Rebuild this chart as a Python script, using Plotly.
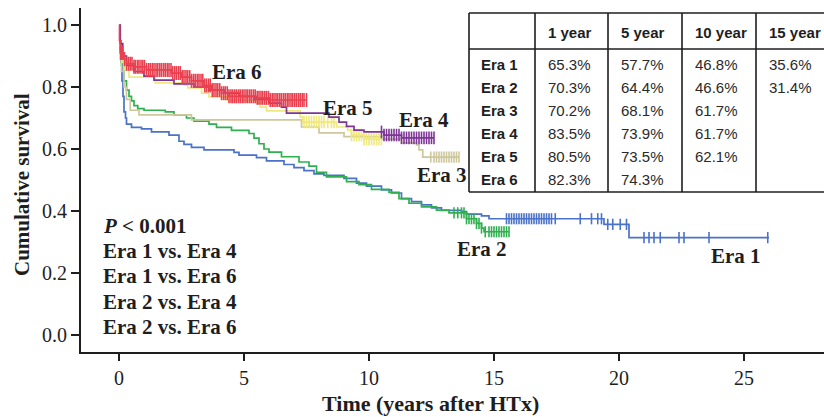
import numpy as np
import plotly.graph_objects as go

# ---------------- data ----------------
era_names = ["Era 1", "Era 2", "Era 3", "Era 4", "Era 5", "Era 6"]

era1_t = [0, 0.04, 0.08, 0.12, 0.16, 0.2, 0.26, 0.3, 0.5, 0.9, 1.3, 2.0, 2.4, 2.6, 2.9, 3.4, 4.6, 4.8,
          5.5, 5.9, 6.6, 7.0, 7.4, 7.8, 8.2, 9.0, 9.5, 9.9, 10.5, 10.9, 11.3, 11.7, 12.1, 12.5, 12.9,
          13.7, 13.9, 14.5, 14.8, 19.4, 20.4]
era1_s = [1.0, 0.95, 0.88, 0.82, 0.77, 0.72, 0.70, 0.68, 0.67, 0.665, 0.655, 0.645, 0.625, 0.615, 0.605,
          0.597, 0.589, 0.58, 0.572, 0.562, 0.55, 0.54, 0.53, 0.52, 0.515, 0.505, 0.49, 0.48, 0.468,
          0.458, 0.44, 0.43, 0.42, 0.41, 0.402, 0.398, 0.39, 0.384, 0.375, 0.357, 0.314]
era1_end = 26.0
era1_c = [15.5, 15.6, 15.7, 15.8, 15.9, 16.0, 16.1, 16.2, 16.3, 16.4, 16.5, 16.6, 16.7, 16.8, 16.9,
          17.0, 17.1, 17.2, 17.3, 17.45, 18.45, 18.9, 19.15, 19.3, 19.55, 19.75, 20.05, 20.3,
          21.0, 21.2, 21.4, 21.65, 22.4, 22.6, 23.6, 25.95]

era2_t = [0, 0.04, 0.1, 0.2, 0.3, 0.4, 0.5, 0.6, 0.75, 1.0, 1.85, 2.2, 2.7, 3.0, 3.6, 3.9, 4.5, 5.2,
          5.4, 5.6, 5.8, 6.0, 6.5, 7.2, 7.6, 7.9, 8.3, 9.1, 9.6, 10.1, 10.8, 11.2, 11.6, 12.1, 12.7,
          13.2, 13.9, 14.3, 14.5, 14.6]
era2_s = [1.0, 0.93, 0.87, 0.82, 0.79, 0.77, 0.755, 0.74, 0.73, 0.725, 0.72, 0.71, 0.70, 0.69, 0.68,
          0.67, 0.66, 0.65, 0.635, 0.617, 0.60, 0.59, 0.575, 0.558, 0.545, 0.525, 0.51, 0.495, 0.485,
          0.47, 0.46, 0.44, 0.425, 0.413, 0.403, 0.394, 0.375, 0.36, 0.345, 0.333]
era2_end = 15.6
era2_c = [13.4, 13.55, 13.7, 13.8, 13.9, 14.0, 14.1, 14.2, 14.3, 14.4, 14.5, 14.65, 14.8, 14.9,
          15.0, 15.1, 15.2, 15.3, 15.4, 15.5, 15.6]

era3_t = [0, 0.04, 0.1, 0.2, 0.3, 0.45, 0.8, 2.9, 7.3, 8.0, 9.0, 10.5, 11.3, 11.9, 12.0, 12.15]
era3_s = [1.0, 0.92, 0.85, 0.80, 0.76, 0.725, 0.71, 0.694, 0.671, 0.652, 0.64, 0.632, 0.62, 0.613,
          0.597, 0.574]
era3_end = 13.6
era3_c = [12.47, 12.6, 12.7, 12.8, 12.9, 13.0, 13.1, 13.2, 13.3, 13.4, 13.5, 13.6]

era4_t = [0, 0.05, 0.15, 0.3, 0.6, 1.0, 1.4, 2.2, 3.0, 3.6, 4.2, 4.8, 5.4, 6.0, 6.5, 6.7, 8.4, 8.8,
          9.1, 9.4, 9.8, 10.6, 11.3]
era4_s = [1.0, 0.94, 0.9, 0.87, 0.85, 0.835, 0.822, 0.81, 0.8, 0.79, 0.78, 0.77, 0.76, 0.748, 0.735,
          0.716, 0.703, 0.687, 0.673, 0.661, 0.655, 0.645, 0.636]
era4_end = 12.6
era4_c = [10.5, 10.6, 10.7, 10.8, 10.9, 11.0, 11.1, 11.2, 11.3, 11.4, 11.5, 11.6, 11.7, 11.8, 11.9,
          12.0, 12.1, 12.2, 12.3, 12.4, 12.5, 12.6]

era5_t = [0, 0.04, 0.1, 0.2, 0.4, 1.45, 2.6, 2.75, 3.3, 3.6, 4.3, 5.5, 5.65, 5.9, 7.25, 7.35, 8.7,
          9.15, 9.3, 9.8]
era5_s = [1.0, 0.93, 0.88, 0.855, 0.832, 0.813, 0.806, 0.797, 0.78, 0.768, 0.758, 0.748, 0.735,
          0.723, 0.703, 0.687, 0.671, 0.661, 0.645, 0.632]
era5_end = 10.5
era5_c = [7.4, 7.5, 7.6, 7.7, 7.8, 7.9, 8.0, 8.1, 8.2, 8.35, 8.5, 8.6, 9.3, 9.4, 9.5, 9.6, 9.7,
          9.8, 9.9, 10.0, 10.1, 10.2, 10.3, 10.4, 10.5]

era6_t = [0, 0.02, 0.05, 0.2, 0.3, 0.6, 1.1, 2.1, 2.5, 2.9, 3.4, 3.7, 4.1, 4.4, 5.5, 6.0]
era6_s = [1.0, 0.95, 0.91, 0.89, 0.875, 0.865, 0.855, 0.845, 0.832, 0.82, 0.805, 0.79, 0.78, 0.77,
          0.765, 0.758]
era6_end = 7.5
era6_c = [0.06, 0.1, 0.15, 0.22, 0.3, 0.38, 0.45, 0.52, 0.6, 0.66, 0.74, 0.8, 0.88, 0.95, 1.02,
          1.1, 1.18, 1.25, 1.33, 1.4, 1.48, 1.55, 1.63, 1.7, 1.78, 1.85, 1.93, 2.0, 2.08, 2.15,
          2.23, 2.3, 2.38, 2.45, 2.53, 2.6, 2.68, 2.75, 2.83, 2.9, 2.98, 3.05, 3.13, 3.2, 3.28,
          3.35, 3.43, 3.5, 3.58, 3.65, 3.73, 3.8, 3.88, 3.95, 4.03, 4.1, 4.18, 4.25, 4.33, 4.4,
          4.48, 4.55, 4.63, 4.7, 4.78, 4.85, 4.93, 5.0, 5.08, 5.15, 5.23, 5.3, 5.38, 5.45, 5.53,
          5.6, 5.68, 5.75, 5.83, 5.9, 5.98, 6.05, 6.13, 6.2, 6.28, 6.35, 6.43, 6.5, 6.58, 6.65,
          6.73, 6.8, 6.88, 6.95, 7.03, 7.1, 7.18, 7.25, 7.33, 7.4, 7.5]

# table
table_cols = ["1 year", "5 year", "10 year", "15 year"]
table_vals = [
    ["65.3%", "57.7%", "46.8%", "35.6%"],
    ["70.3%", "64.4%", "46.6%", "31.4%"],
    ["70.2%", "68.1%", "61.7%", ""],
    ["83.5%", "73.9%", "61.7%", ""],
    ["80.5%", "73.5%", "62.1%", ""],
    ["82.3%", "74.3%", "", ""],
]

stats_lines = ["<i>P</i> &lt; 0.001", "Era 1 vs. Era 4", "Era 1 vs. Era 6",
               "Era 2 vs. Era 4", "Era 2 vs. Era 6"]

x_ticks = [0, 5, 10, 15, 20, 25]
y_ticks = [0.0, 0.2, 0.4, 0.6, 0.8, 1.0]

# ---------------- styling ----------------
colors = {"Era 1": "#4a72c8", "Era 2": "#2fb04f", "Era 3": "#cdc79c",
          "Era 4": "#7d3596", "Era 5": "#efe87c", "Era 6": "#e8404f"}
SERIF = "Liberation Serif, Times New Roman, serif"
SANS = "Liberation Sans, Arial, sans-serif"
INK = "#1e1e1e"

W, H = 824, 417
L, R, T, B = 81, 0, 8, 65


def xp(px):
    return (px - L) / (W - L - R)


def yp(py):
    return (H - B - py) / (H - T - B)


series = {
    "Era 1": (era1_t, era1_s, era1_end, era1_c, 8),
    "Era 2": (era2_t, era2_s, era2_end, era2_c, 8),
    "Era 3": (era3_t, era3_s, era3_end, era3_c, 8),
    "Era 5": (era5_t, era5_s, era5_end, era5_c, 9),
    "Era 4": (era4_t, era4_s, era4_end, era4_c, 9),
    "Era 6": (era6_t, era6_s, era6_end, era6_c, 10),
}

fig = go.Figure()
for name, (t, s, end, c, msize) in series.items():
    xs = list(t) + [end]
    ys = list(s) + [s[-1]]
    fig.add_trace(go.Scatter(x=xs, y=ys, mode="lines", line=dict(color=colors[name], width=1.7, shape="hv"),
                             name=name, showlegend=False, hoverinfo="skip"))
    ta = np.array(t)
    idx = np.searchsorted(ta, np.array(c), side="right") - 1
    cy = np.array(s)[idx]
    fig.add_trace(go.Scatter(x=c, y=cy, mode="markers",
                             marker=dict(symbol="line-ns", size=msize, color=colors[name],
                                         line=dict(color=colors[name], width=1.6)),
                             showlegend=False, hoverinfo="skip"))

annotations = []
# era labels (pixel centers)
era_label_pos = {"Era 6": (237, 72), "Era 5": (348, 108), "Era 4": (424, 120),
                 "Era 3": (442, 175), "Era 2": (482, 249), "Era 1": (736, 256)}
for name, (px, py) in era_label_pos.items():
    annotations.append(dict(x=xp(px), y=yp(py), xref="paper", yref="paper", text="<b>%s</b>" % name,
                            showarrow=False, font=dict(family=SERIF, size=21, color=INK),
                            xanchor="center", yanchor="middle"))

# stats text
for i, line in enumerate(stats_lines):
    annotations.append(dict(x=xp(101), y=yp(226 + 25.2 * i), xref="paper", yref="paper",
                            text="<b>%s</b>" % line, showarrow=False,
                            font=dict(family=SERIF, size=21, color=INK),
                            xanchor="left", yanchor="middle"))

# axis titles
annotations.append(dict(x=xp(22), y=yp(185), xref="paper", yref="paper", text="<b>Cumulative survival</b>",
                        textangle=-90, showarrow=False, font=dict(family=SERIF, size=21, color=INK),
                        xanchor="center", yanchor="middle"))
annotations.append(dict(x=xp(430), y=yp(403), xref="paper", yref="paper", text="<b>Time (years after HTx)</b>",
                        showarrow=False, font=dict(family=SERIF, size=22, color=INK),
                        xanchor="center", yanchor="middle"))

# table
col_lines = [469, 535, 608, 682, 756]
tab_top, tab_head, tab_bot = 13, 49, 192
row_y = [65, 88, 111, 133, 156, 179]
shapes = []
shapes.append(dict(type="rect", xref="paper", yref="paper", x0=xp(469), x1=xp(830), y0=yp(tab_bot), y1=yp(tab_top),
                   fillcolor="white", line=dict(width=0), layer="above"))
for yy in (tab_top, tab_head, tab_bot):
    shapes.append(dict(type="line", xref="paper", yref="paper", x0=xp(469), x1=xp(830), y0=yp(yy), y1=yp(yy),
                       line=dict(color=INK, width=1.6), layer="above"))
for cx in col_lines:
    shapes.append(dict(type="line", xref="paper", yref="paper", x0=xp(cx), x1=xp(cx), y0=yp(tab_bot), y1=yp(tab_top),
                       line=dict(color=INK, width=1.6), layer="above"))

for j, head in enumerate(table_cols):
    annotations.append(dict(x=xp(col_lines[j + 1] + 11), y=yp(32), xref="paper", yref="paper",
                            text="<b>%s</b>" % head, showarrow=False,
                            font=dict(family=SANS, size=15, color=INK), xanchor="left", yanchor="middle"))
for i, name in enumerate(era_names):
    annotations.append(dict(x=xp(479), y=yp(row_y[i]), xref="paper", yref="paper",
                            text="<b>%s</b>" % name, showarrow=False,
                            font=dict(family=SANS, size=15, color=INK), xanchor="left", yanchor="middle"))
    for j, v in enumerate(table_vals[i]):
        if v:
            annotations.append(dict(x=xp(col_lines[j + 1] + 11), y=yp(row_y[i]), xref="paper", yref="paper",
                                    text=v, showarrow=False,
                                    font=dict(family=SANS, size=15, color="#2a2a2a"),
                                    xanchor="left", yanchor="middle"))

x0 = -(119 - L) / 25.0
x1 = (W - R - 119) / 25.0
y0 = -((H - B) - 335) / 310.0
y1 = (335 - T) / 310.0

fig.update_layout(
    width=W, height=H, margin=dict(l=L, r=R, t=T, b=B, pad=0),
    paper_bgcolor="white", plot_bgcolor="white",
    xaxis=dict(range=[x0, x1], tickvals=x_ticks, showgrid=False, zeroline=False, showline=True,
               linecolor=INK, linewidth=2, ticks="outside", ticklen=7, tickwidth=2, tickcolor=INK,
               tickfont=dict(family=SERIF, size=20, color=INK)),
    yaxis=dict(range=[y0, y1], tickvals=y_ticks, tickformat=".1f", showgrid=False, zeroline=False,
               showline=True, linecolor=INK, linewidth=2, ticks="outside", ticklen=8, tickwidth=2,
               tickcolor=INK, tickfont=dict(family=SERIF, size=20, color=INK)),
    annotations=annotations, shapes=shapes, showlegend=False,
)

fig.write_html("out.html", config={"displayModeBar": False},
               post_script="document.body.style.margin='0';document.body.style.overflow='hidden';")
